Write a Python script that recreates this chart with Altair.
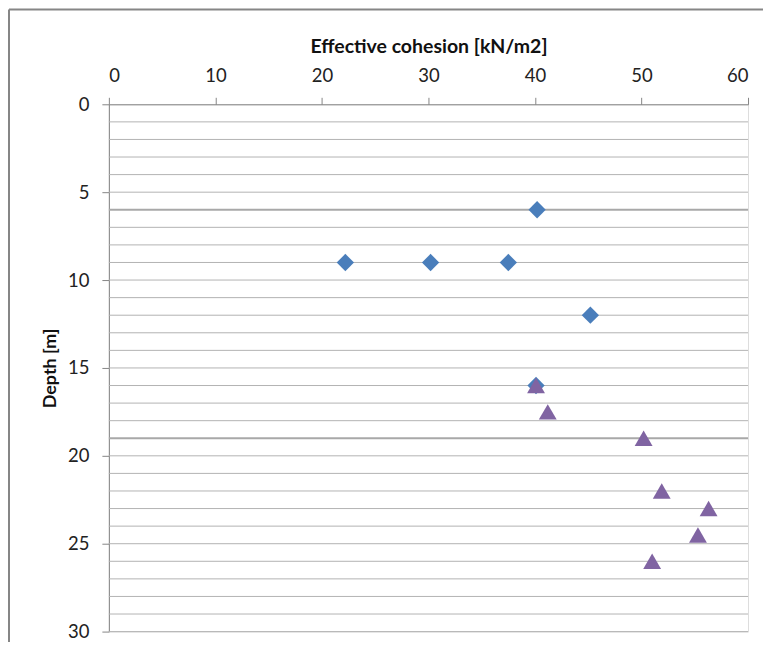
import altair as alt
import pandas as pd

# Series 1 (diamonds)
DIAMOND_COHESION = [40.2, 22.2, 30.2, 37.5, 45.2, 40.1]
DIAMOND_DEPTH = [6, 9, 9, 9, 12, 16]
# Series 2 (triangles)
TRIANGLE_COHESION = [40.1, 41.2, 50.2, 51.9, 56.3, 55.3, 51.0]
TRIANGLE_DEPTH = [16, 17.5, 19, 22, 23, 24.5, 26]

X_TICKS = [0, 10, 20, 30, 40, 50, 60]
Y_TICKS = [0, 5, 10, 15, 20, 25, 30]
Y_GRID = list(range(1, 31))
BOUNDARY_DEPTHS = [6, 19]

FONT = "Lato"
GRID = "#b3b3b3"
AXIS = "#868686"

dia = pd.DataFrame({"c": DIAMOND_COHESION, "d": DIAMOND_DEPTH})
tri = pd.DataFrame({"c": TRIANGLE_COHESION, "d": TRIANGLE_DEPTH})
grid = pd.DataFrame({"d": Y_GRID})

bexpr = " || ".join(f"datum.d == {b}" for b in BOUNDARY_DEPTHS)

xscale = alt.Scale(domain=[0, 60], nice=False, zero=False)
yscale = alt.Scale(domain=[0, 30], reverse=True, nice=False, zero=False)

xaxis = alt.Axis(
    orient="top", values=X_TICKS, grid=False, title="Effective cohesion [kN/m2]",
    domainColor=AXIS, tickColor=AXIS, tickSize=7, labelPadding=12,
    labelFont=FONT, labelFontSize=18.5, labelColor="#222222",
    titleFont=FONT, titleFontSize=19.5, titleFontWeight="bold", titleColor="#111111",
    titlePadding=10,
)
yaxis = alt.Axis(
    values=Y_TICKS, grid=False, title="Depth [m]",
    domainColor=AXIS, tickColor=AXIS, tickSize=7, labelPadding=13,
    labelFont=FONT, labelFontSize=18.5, labelColor="#222222",
    titleFont=FONT, titleFontSize=18, titleFontWeight="bold", titleColor="#111111",
    titlePadding=8,
)

gridlines = alt.Chart(grid).mark_rule(color=GRID).encode(
    y=alt.Y("d:Q", scale=yscale, axis=yaxis),
    x=alt.value(0), x2=alt.value(640),
    strokeWidth=alt.condition(bexpr, alt.value(2.2), alt.value(1)),
    color=alt.condition(bexpr, alt.value("#a8a8a8"), alt.value(GRID)),
)

base_d = alt.Chart(dia).mark_point(
    shape="diamond", filled=True, size=300, color="#4a7ebb", opacity=1
).encode(
    x=alt.X("c:Q", scale=xscale, axis=xaxis),
    y=alt.Y("d:Q", scale=yscale),
)
base_t = alt.Chart(tri).mark_point(
    shape="triangle-up", filled=True, size=320, color="#8064a2", opacity=1
).encode(
    x=alt.X("c:Q", scale=xscale),
    y=alt.Y("d:Q", scale=yscale),
)

one = pd.DataFrame({"a": [0]})
border_top = alt.Chart(one).mark_rule(color=AXIS, strokeWidth=2).encode(
    x=alt.value(-100), x2=alt.value(700), y=alt.value(-95)
)
border_left = alt.Chart(one).mark_rule(color=AXIS, strokeWidth=2).encode(
    x=alt.value(-100), y=alt.value(-95), y2=alt.value(600)
)

chart = alt.layer(gridlines, border_top, border_left, base_d, base_t).properties(
    width=640, height=528,
    autosize=alt.AutoSizeParams(type="none"),
    padding={"left": 101, "top": 96, "right": 15, "bottom": 10},
).configure_view(stroke=None).configure(background="white")

chart.save("out.html", embed_options={"renderer": "svg", "actions": False})
